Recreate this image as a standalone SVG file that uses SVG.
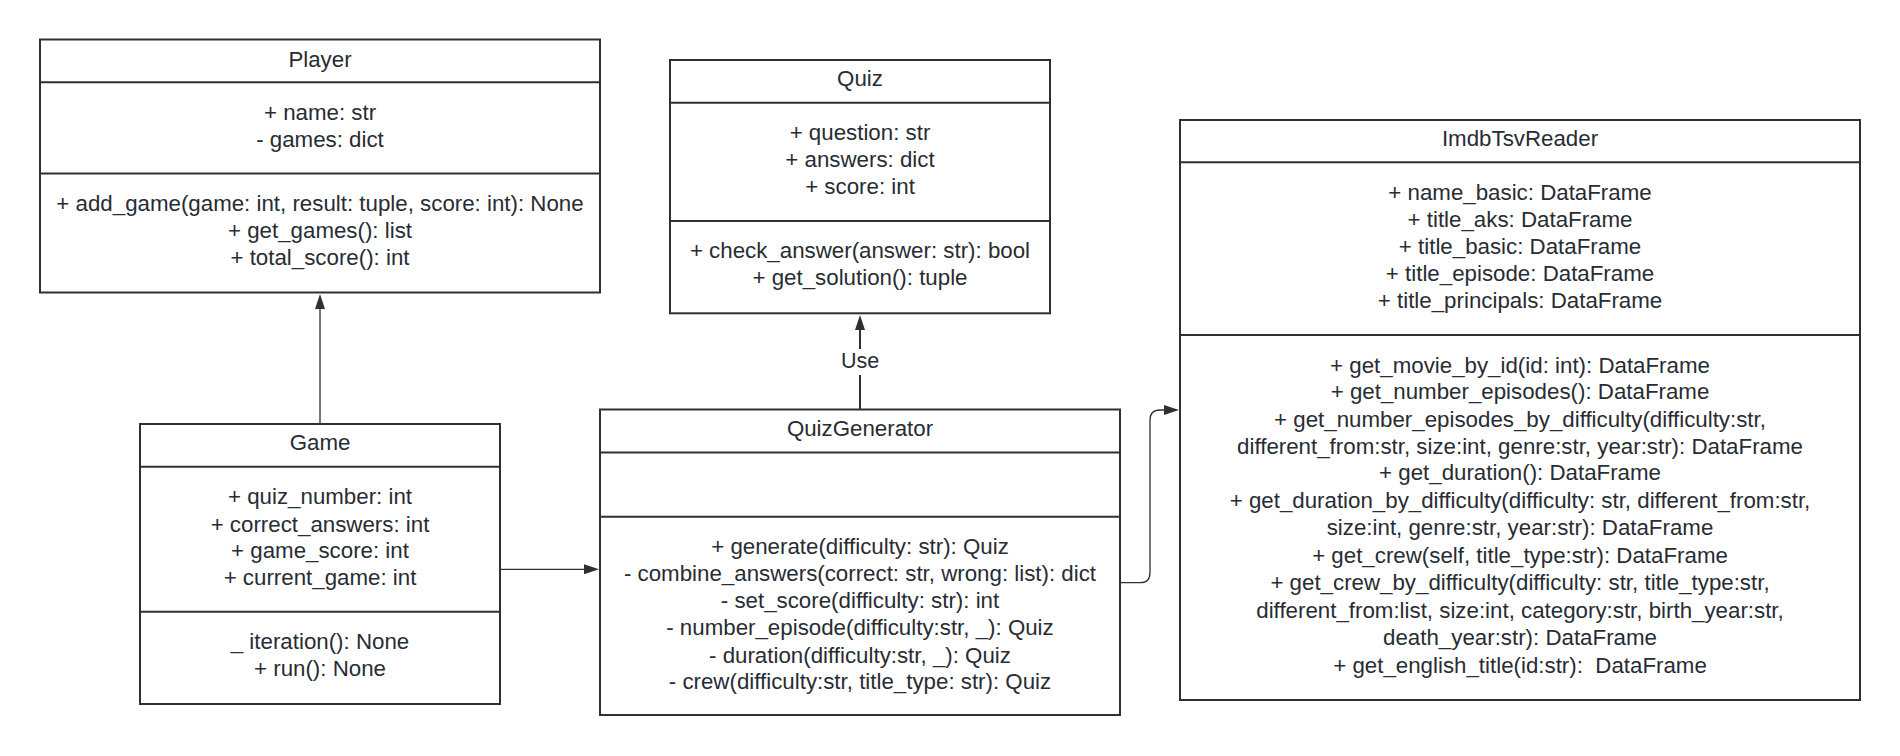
<svg xmlns="http://www.w3.org/2000/svg" width="1900" height="756" viewBox="0 0 1900 756">
  <style>
    .box { fill: #ffffff; stroke: #2e3033; stroke-width: 2; }
    .sep { stroke: #2e3033; stroke-width: 2; fill: none; }
    .t { font-family: "Liberation Sans", Arial, sans-serif; font-size: 22.3px; fill: #282c33; text-anchor: middle; }
    .conn { stroke: #2e3033; stroke-width: 1.3; fill: none; }
    .conn2 { stroke: #2e3033; stroke-width: 2; fill: none; }
    .lbl { font-family: "Liberation Sans", Arial, sans-serif; font-size: 21.5px; fill: #282c33; text-anchor: middle; }
  </style>
  <defs>
    <marker id="arrow" viewBox="0 0 15 10" refX="0" refY="5" markerWidth="15" markerHeight="10" markerUnits="userSpaceOnUse" orient="auto">
      <path d="M0,0 L15,5 L0,10 Z" fill="#2e3033"/>
    </marker>
  </defs>
  <rect width="1900" height="756" fill="#ffffff"/>

  <g id="connectors">
    <path class="conn" d="M320 424 L320 309" marker-end="url(#arrow)"/>
    <path class="conn" d="M500 569.3 L584 569.3" marker-end="url(#arrow)"/>
    <path class="conn2" d="M860 409 L860 330" marker-end="url(#arrow)"/>
    <rect x="836" y="349" width="48" height="26" fill="#ffffff"/>
    <text class="lbl" x="860" y="367.5">Use</text>
    <path class="conn" d="M1120 582.7 L1140 582.7 Q1150 582.7 1150 572.7 L1150 420 Q1150 410 1160 410 L1164 410" marker-end="url(#arrow)"/>
  </g>

  <g id="Player">
    <rect class="box" x="40" y="39.5" width="560" height="253"/>
    <line class="sep" x1="40" y1="82.3" x2="600" y2="82.3"/>
    <line class="sep" x1="40" y1="173.5" x2="600" y2="173.5"/>
    <text class="t" x="320" y="67">Player</text>
    <text class="t" x="320" y="120.4">+ name: str</text>
    <text class="t" x="320" y="147">- games: dict</text>
    <text class="t" x="320" y="211">+ add_game(game: int, result: tuple, score: int): None</text>
    <text class="t" x="320" y="238.4">+ get_games(): list</text>
    <text class="t" x="320" y="265.4">+ total_score(): int</text>
  </g>

  <g id="Quiz">
    <rect class="box" x="670" y="60" width="380" height="253.3"/>
    <line class="sep" x1="670" y1="102.7" x2="1050" y2="102.7"/>
    <line class="sep" x1="670" y1="221" x2="1050" y2="221"/>
    <text class="t" x="860" y="86">Quiz</text>
    <text class="t" x="860" y="140.4">+ question: str</text>
    <text class="t" x="860" y="167">+ answers: dict</text>
    <text class="t" x="860" y="194.4">+ score: int</text>
    <text class="t" x="860" y="258.4">+ check_answer(answer: str): bool</text>
    <text class="t" x="860" y="285.4">+ get_solution(): tuple</text>
  </g>

  <g id="Game">
    <rect class="box" x="140" y="424" width="360" height="280"/>
    <line class="sep" x1="140" y1="466.7" x2="500" y2="466.7"/>
    <line class="sep" x1="140" y1="611.7" x2="500" y2="611.7"/>
    <text class="t" x="320" y="450.4">Game</text>
    <text class="t" x="320" y="504.4">+ quiz_number: int</text>
    <text class="t" x="320" y="531.7">+ correct_answers: int</text>
    <text class="t" x="320" y="558.4">+ game_score: int</text>
    <text class="t" x="320" y="585.4">+ current_game: int</text>
    <text class="t" x="320" y="649.4">_ iteration(): None</text>
    <text class="t" x="320" y="676">+ run(): None</text>
  </g>

  <g id="QuizGenerator">
    <rect class="box" x="600" y="409.5" width="520" height="305.5"/>
    <line class="sep" x1="600" y1="452.5" x2="1120" y2="452.5"/>
    <line class="sep" x1="600" y1="516.7" x2="1120" y2="516.7"/>
    <text class="t" x="860" y="436">QuizGenerator</text>
    <text class="t" x="860" y="554.4">+ generate(difficulty: str): Quiz</text>
    <text class="t" x="860" y="581">- combine_answers(correct: str, wrong: list): dict</text>
    <text class="t" x="860" y="608.4">- set_score(difficulty: str): int</text>
    <text class="t" x="860" y="635.4">- number_episode(difficulty:str, _): Quiz</text>
    <text class="t" x="860" y="662.7">- duration(difficulty:str, _): Quiz</text>
    <text class="t" x="860" y="689.4">- crew(difficulty:str, title_type: str): Quiz</text>
  </g>

  <g id="ImdbTsvReader">
    <rect class="box" x="1180" y="120" width="680" height="580"/>
    <line class="sep" x1="1180" y1="162.3" x2="1860" y2="162.3"/>
    <line class="sep" x1="1180" y1="335" x2="1860" y2="335"/>
    <text class="t" x="1520" y="146">ImdbTsvReader</text>
    <text class="t" x="1520" y="200.4">+ name_basic: DataFrame</text>
    <text class="t" x="1520" y="227">+ title_aks: DataFrame</text>
    <text class="t" x="1520" y="254.4">+ title_basic: DataFrame</text>
    <text class="t" x="1520" y="281">+ title_episode: DataFrame</text>
    <text class="t" x="1520" y="307.7">+ title_principals: DataFrame</text>
    <text class="t" x="1520" y="372.7">+ get_movie_by_id(id: int): DataFrame</text>
    <text class="t" x="1520" y="399.4">+ get_number_episodes(): DataFrame</text>
    <text class="t" x="1520" y="426.7">+ get_number_episodes_by_difficulty(difficulty:str,</text>
    <text class="t" x="1520" y="453.7">different_from:str, size:int, genre:str, year:str): DataFrame</text>
    <text class="t" x="1520" y="480.4">+ get_duration(): DataFrame</text>
    <text class="t" x="1520" y="507.7">+ get_duration_by_difficulty(difficulty: str, different_from:str,</text>
    <text class="t" x="1520" y="535">size:int, genre:str, year:str): DataFrame</text>
    <text class="t" x="1520" y="562.7">+ get_crew(self, title_type:str): DataFrame</text>
    <text class="t" x="1520" y="590.4">+ get_crew_by_difficulty(difficulty: str, title_type:str,</text>
    <text class="t" x="1520" y="617.7">different_from:list, size:int, category:str, birth_year:str,</text>
    <text class="t" x="1520" y="645.4">death_year:str): DataFrame</text>
    <text class="t" x="1520" y="672.7">+ get_english_title(id:str):&#160; DataFrame</text>
  </g>
</svg>
